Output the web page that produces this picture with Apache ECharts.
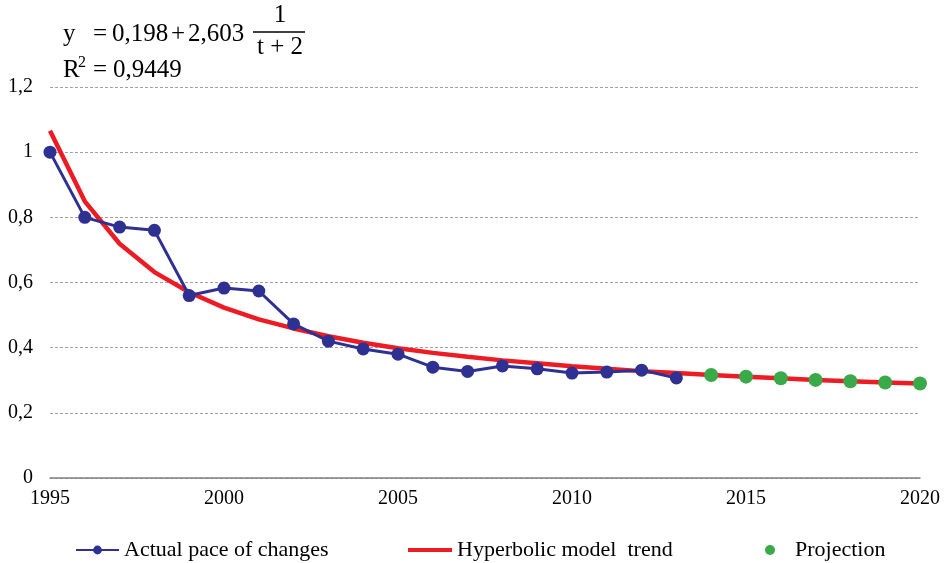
<!DOCTYPE html>
<html>
<head>
<meta charset="utf-8">
<script src="https://cdn.jsdelivr.net/npm/echarts@6/dist/echarts.min.js"></script>
<style>html,body{margin:0;padding:0;background:#fff;}#c{width:946px;height:563px;}</style>
</head>
<body>
<div id="c"></div>
<script>
const years = [1995,1996,1997,1998,1999,2000,2001,2002,2003,2004,2005,2006,2007,2008,2009,2010,2011,2012,2013,2014,2015,2016,2017,2018,2019,2020];
const actualYears = [1995,1996,1997,1998,1999,2000,2001,2002,2003,2004,2005,2006,2007,2008,2009,2010,2011,2012,2013];
const actualValues = [1.0,0.80,0.77,0.76,0.56,0.583,0.574,0.473,0.42,0.396,0.38,0.34,0.327,0.344,0.335,0.322,0.325,0.331,0.307];
const trendValues = [1.066,0.849,0.719,0.632,0.570,0.523,0.487,0.459,0.435,0.415,0.398,0.384,0.372,0.361,0.352,0.343,0.335,0.328,0.322,0.316,0.311,0.306,0.301,0.297,0.293,0.290];
const projYears = [2014,2015,2016,2017,2018,2019,2020];
const projValues = [0.316,0.311,0.306,0.301,0.297,0.293,0.290];
const names = ['Actual pace of changes','Hyperbolic model  trend','Projection'];

const FONT = '"Liberation Serif", "Times New Roman", serif';
const chart = echarts.init(document.getElementById('c'));
const fsz = 25;
const F = fsz + 'px ' + FONT;
function t(text, x, y, font, align) {
  return {type: 'text', x: x, y: y, style: {text: text, font: font || F, fill: '#000', textAlign: align || 'left', textVerticalAlign: 'middle'}};
}
chart.setOption({
  animation: false,
  backgroundColor: '#fff',
  grid: {left: 50, right: 26, top: 87, bottom: 85, containLabel: false},
  xAxis: {
    type: 'value', min: 1995, max: 2020, interval: 5,
    axisLine: {show: true, lineStyle: {color: '#808080', width: 1.5}},
    axisTick: {show: false},
    splitLine: {show: false},
    axisLabel: {color: '#000', fontFamily: FONT, fontSize: 20, margin: 11, formatter: v => String(v)}
  },
  yAxis: {
    type: 'value', min: 0, max: 1.2, interval: 0.2,
    axisLine: {show: false}, axisTick: {show: false},
    splitLine: {show: true, lineStyle: {color: '#a0a0a0', type: [3, 2], width: 1}},
    axisLabel: {color: '#000', fontFamily: FONT, fontSize: 20, margin: 17,
      formatter: v => String(+v.toFixed(1)).replace('.', ',')}
  },
  legend: [
    {left: 75, top: 539, padding: 0, data: [names[0]], itemWidth: 43, itemHeight: 11, itemGap: 0,
      textStyle: {fontFamily: FONT, fontSize: 22, color: '#000'}},
    {left: 408, top: 539, padding: 0, data: [{name: names[1], icon: 'rect'}], itemWidth: 44, itemHeight: 4, itemGap: 0,
      textStyle: {fontFamily: FONT, fontSize: 22, color: '#000'}},
    {left: 765, top: 539, padding: 0, data: [{name: names[2], icon: 'circle'}], itemWidth: 10, itemHeight: 10, itemGap: 0,
      textStyle: {fontFamily: FONT, fontSize: 22, color: '#000', padding: [0,0,0,15]}}
  ],
  series: [
    {name: names[1], type: 'line', data: years.map((y, i) => [y, trendValues[i]]),
      showSymbol: false, symbol: 'none', lineStyle: {color: '#ED1C24', width: 4.5}, itemStyle: {color: '#ED1C24'}, z: 2},
    {name: names[0], type: 'line', data: actualYears.map((y, i) => [y, actualValues[i]]),
      symbol: 'circle', symbolSize: 13, lineStyle: {color: '#2E3192', width: 3}, itemStyle: {color: '#2E3192'}, z: 3},
    {name: names[2], type: 'scatter', data: projYears.map((y, i) => [y, projValues[i]]),
      symbol: 'circle', symbolSize: 14, itemStyle: {color: '#39A949', opacity: 1}, z: 4}
  ],
  graphic: [
    t('y', 63, 34),
    t('=', 93, 34),
    t('0,198', 112, 34),
    t('+', 171, 34),
    t('2,603', 188, 34),
    {type: 'line', shape: {x1: 253, y1: 32, x2: 305, y2: 32}, style: {stroke: '#000', lineWidth: 1.3}},
    t('1', 280, 15, F, 'center'),
    t('t + 2', 280, 47, F, 'center'),
    t('R', 63, 70),
    t('2', 78, 63, '16px ' + FONT),
    t('=', 93, 70),
    t('0,9449', 113, 70)
  ]
});
</script>
</body>
</html>
